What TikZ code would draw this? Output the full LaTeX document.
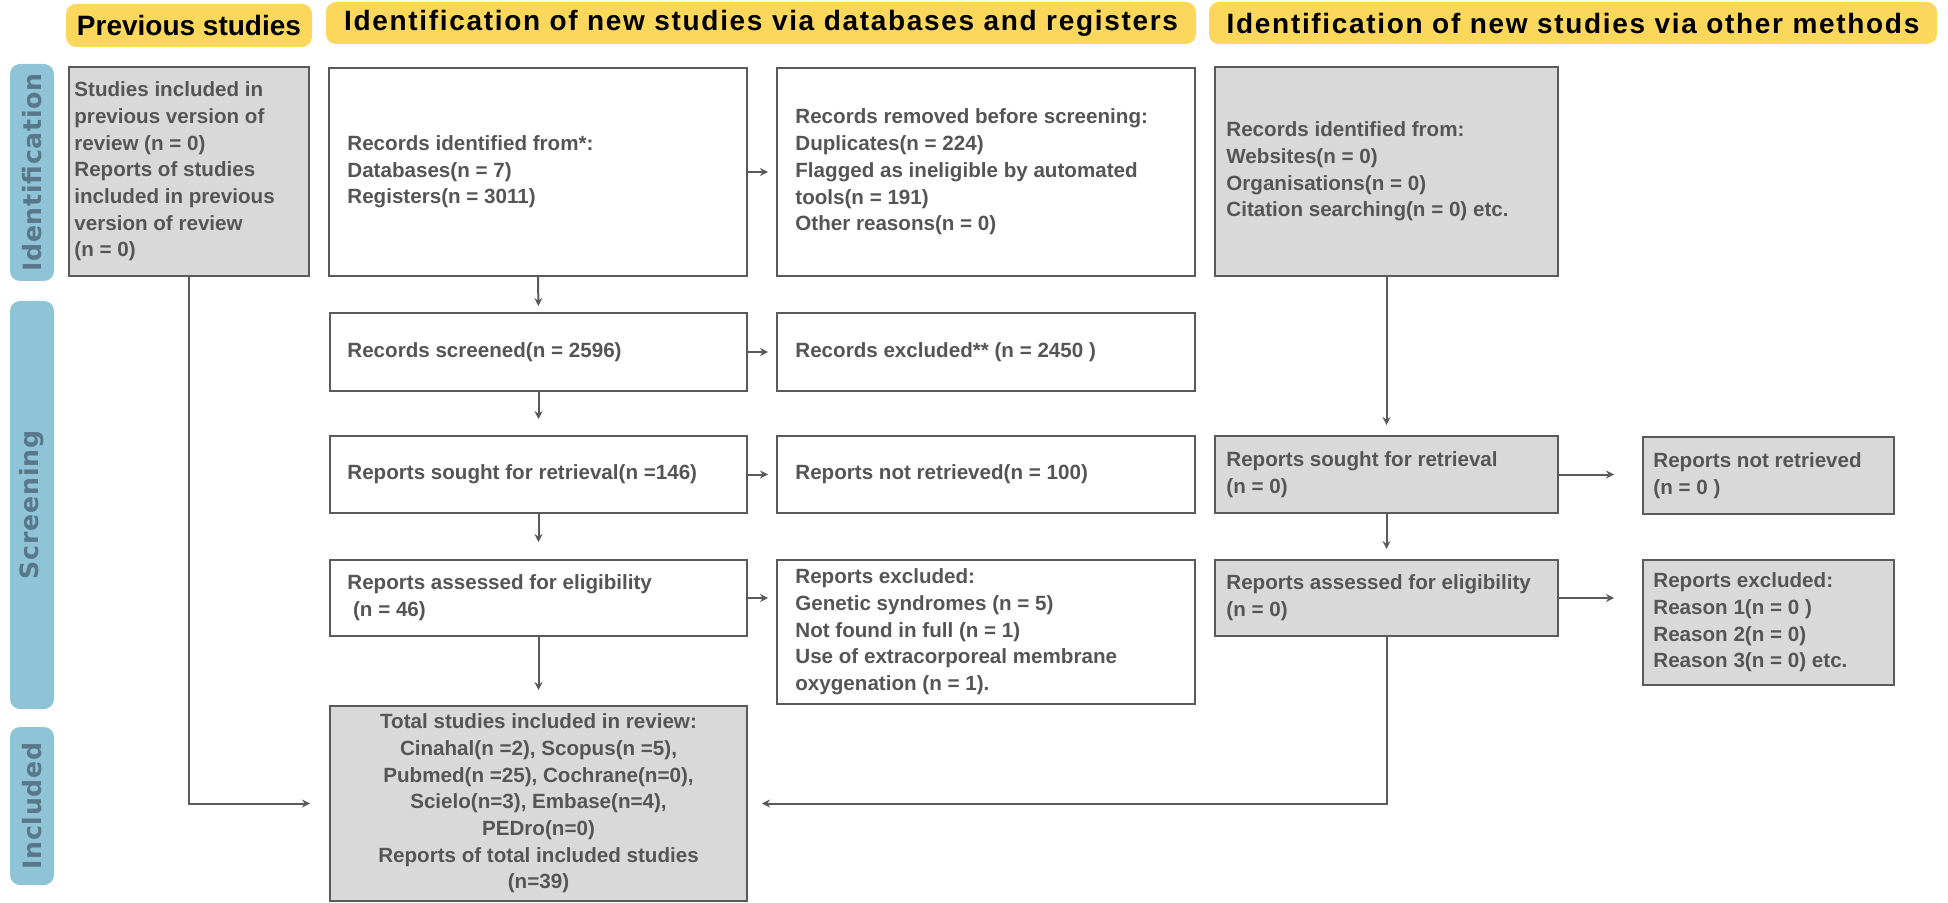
\documentclass[tikz,border=0pt]{standalone}
\usepackage{fontspec}
\setmainfont{Liberation Sans}
\newfontfamily\sidefont[LetterSpace=3]{DejaVu Sans}
\newfontfamily\headfont[LetterSpace=6]{Liberation Sans}
\usetikzlibrary{arrows.meta,fit}
\definecolor{yel}{RGB}{251,216,92}
\definecolor{sideblue}{RGB}{143,195,214}
\definecolor{sidetxt}{RGB}{88,120,137}
\definecolor{boxgray}{RGB}{217,217,217}
\definecolor{edge}{RGB}{90,90,90}
\definecolor{txtgray}{RGB}{85,85,85}
\begin{document}
\begin{tikzpicture}[x=0.5pt,y=-0.5pt,
 box/.style={draw=edge, line width=1pt, fill=white, inner sep=0pt},
 gbox/.style={box, fill=boxgray},
 txt/.style={text=txtgray, font=\fontsize{10.3}{13.35}\selectfont\bfseries, align=left, inner sep=0pt, anchor=west},
 hdr/.style={fill=yel, rounded corners=5pt, inner sep=0pt},
 hdrtxt/.style={text=black, font=\fontsize{14}{16}\selectfont\bfseries, inner sep=0pt},
 side/.style={fill=sideblue, rounded corners=5pt, inner sep=0pt},
 sidelbl/.style={rotate=90, text=sidetxt, font=\sidefont\fontsize{12.6}{14}\selectfont\bfseries, inner sep=0pt},
 arr/.style={draw=edge, line width=1pt, -{Stealth[length=4pt,width=4pt]}},
]
\useasboundingbox (0,0) rectangle (1948,903);

% headers
\node[hdr, fit={(66,4) (312,47)}] (hprev) {};
\node[hdrtxt] (hprevt) at (hprev.center) {Previous studies};
\node[hdr, fit={(326,2) (1196,44)}] (hdb) {};
\node[hdrtxt] (hdbt) at (hdb.center) {\headfont Identification of new studies via databases and registers};
\node[hdr, fit={(1209,2) (1937,44)}] (hoth) {};
\node[hdrtxt] (hotht) at (hoth.center) {\headfont Identification of new studies via other methods};

% side bars
\node[side, fit={(10,64) (54,281)}] (sid) {};
\node[sidelbl] (sidt) at (sid.center) {Identification};
\node[side, fit={(10,301) (54,709)}] (sscr) {};
\node[sidelbl] (sscrt) at (sscr.center) {Screening};
\node[side, fit={(10,727) (54,885)}] (sinc) {};
\node[sidelbl] (sinct) at (sinc.center) {Included};

% boxes
\node[gbox, fit={(69,67) (309,276)}] (prev) {};
\node[box, fit={(329,68) (747,276)}] (recid) {};
\node[box, fit={(777,68) (1195,276)}] (recrem) {};
\node[gbox, fit={(1215,67) (1558,276)}] (other) {};
\node[box, fit={(330,313) (747,391)}] (scr) {};
\node[box, fit={(777,313) (1195,391)}] (exc) {};
\node[box, fit={(330,436) (747,513)}] (sou) {};
\node[box, fit={(777,436) (1195,513)}] (nret) {};
\node[gbox, fit={(1215,436) (1558,513)}] (gsou) {};
\node[gbox, fit={(1643,437) (1894,514)}] (gnret) {};
\node[box, fit={(330,560) (747,636)}] (ass) {};
\node[box, fit={(777,560) (1195,704)}] (rexc) {};
\node[gbox, fit={(1215,560) (1558,636)}] (gass) {};
\node[gbox, fit={(1643,560) (1894,685)}] (gexc) {};
\node[gbox, fit={(330,706) (747,901)}] (total) {};

% texts
\node[txt] (prevt) at ([xshift=3pt]prev.west) {Studies included in\\previous version of\\review (n = 0)\\Reports of studies\\included in previous\\version of review\\(n = 0)};
\node[txt] (recidt) at ([xshift=9.5pt]recid.west) {Records identified from*:\\Databases(n = 7)\\Registers(n = 3011)};
\node[txt] (recremt) at ([xshift=9.5pt]recrem.west) {Records removed before screening:\\Duplicates(n = 224)\\Flagged as ineligible by automated\\tools(n = 191)\\Other reasons(n = 0)};
\node[txt] (othert) at ([xshift=6pt]other.west) {Records identified from:\\Websites(n = 0)\\Organisations(n = 0)\\Citation searching(n = 0) etc.};
\node[txt] (scrt) at ([xshift=9pt]scr.west) {Records screened(n = 2596)};
\node[txt] (exct) at ([xshift=9.5pt]exc.west) {Records excluded** (n = 2450 )};
\node[txt] (sout) at ([xshift=9pt]sou.west) {Reports sought for retrieval(n =146)};
\node[txt] (nrett) at ([xshift=9.5pt]nret.west) {Reports not retrieved(n = 100)};
\node[txt] (gsout) at ([xshift=6pt]gsou.west) {Reports sought for retrieval\\(n = 0)};
\node[txt] (gnrett) at ([xshift=5.5pt]gnret.west) {Reports not retrieved\\(n = 0 )};
\node[txt] (asst) at ([xshift=9pt]ass.west) {Reports assessed for eligibility\\\ (n = 46)};
\node[txt] (rexct) at ([xshift=9.5pt]rexc.west) {Reports excluded:\\Genetic syndromes (n = 5)\\Not found in full (n = 1)\\Use of extracorporeal membrane\\oxygenation (n = 1).};
\node[txt] (gasst) at ([xshift=6pt]gass.west) {Reports assessed for eligibility\\(n = 0)};
\node[txt] (gexct) at ([xshift=5.5pt]gexc.west) {Reports excluded:\\Reason 1(n = 0 )\\Reason 2(n = 0)\\Reason 3(n = 0) etc.};
\node[txt, align=center, anchor=center] (totalt) at (total.center) {Total studies included in review:\\Cinahal(n =2), Scopus(n =5),\\Pubmed(n =25), Cochrane(n=0),\\Scielo(n=3), Embase(n=4),\\PEDro(n=0)\\Reports of total included studies\\(n=39)};

% arrows
\draw[arr, shorten >=3pt] (recid.south) -- (scr.north);
\draw[arr, shorten >=8pt] (scr.south) -- (sou.north);
\draw[arr, shorten >=8.5pt] (sou.south) -- (ass.north);
\draw[arr, shorten >=7.5pt] (ass.south) -- (total.north);
\draw[arr, shorten >=4pt] (recid.east) -- (recrem.west);
\draw[arr, shorten >=4pt] (scr.east) -- (exc.west);
\draw[arr, shorten >=4pt] (sou.east) -- (nret.west);
\draw[arr, shorten >=4pt] (ass.east) -- (ass.east -| rexc.west);
\draw[arr, shorten >=5pt] (other.south) -- (gsou.north);
\draw[arr, shorten >=5pt] (gsou.south) -- (gass.north);
\draw[arr, shorten >=14pt] (gsou.east) -- (gsou.east -| gnret.west);
\draw[arr, shorten >=14pt] (gass.east) -- (gass.east -| gexc.west);
\draw[arr, shorten >=9.5pt] (prev.south) |- (total.west);
\draw[arr, shorten >=7pt] (gass.south) |- (total.east);
\end{tikzpicture}
\end{document}
